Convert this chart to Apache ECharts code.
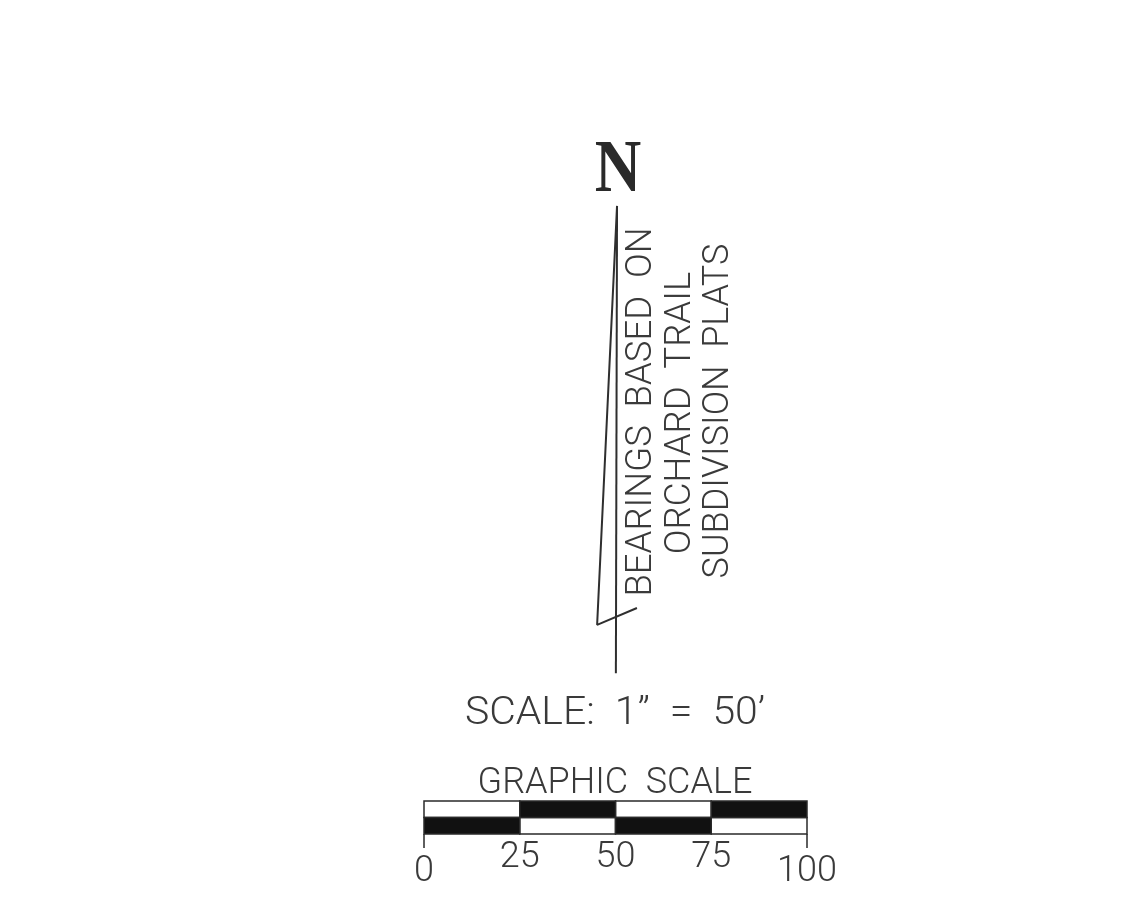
<!DOCTYPE html>
<html><head><meta charset="utf-8">
<style>html,body{margin:0;padding:0;background:#fff}#c{width:1142px;height:922px}</style>
<script src="https://cdn.jsdelivr.net/npm/echarts@6/dist/echarts.min.js"></script>
</head><body><div id="c"></div>
<script>
// graphic scale, feet
const scaleTicks = [0, 25, 50, 75, 100];
const lowLabels = [0, 100];
const topRowBlack = [[25, 50], [75, 100]];
const topRowWhite = [[0, 25], [50, 75]];
const bottomRowBlack = [[0, 25], [50, 75]];
const bottomRowWhite = [[25, 50], [75, 100]];
// north arrow outline, feet from the scale's zero
const arrowMeridian = [[50.4, 164], [50.1, 42]];
const arrowBarb = [[50.4, 164], [45.2, 54.6], [55.6, 59]];
// text
const northLetter = 'N';
const bearingNote = ['BEARINGS  BASED  ON', 'ORCHARD  TRAIL', 'SUBDIVISION  PLATS'];
const scaleNote = 'SCALE:  1”  =  50’';
const scaleTitle = 'GRAPHIC  SCALE';

const FONT = 'Roboto', INK = '#3a3a3a';
const chart = echarts.init(document.getElementById('c'), null, {renderer: 'canvas'});

function rows(list, row, color) {
  return {
    type: 'custom', xAxisIndex: 0, yAxisIndex: 0, silent: true,
    data: list.map(s => [s[0], s[1], row]),
    encode: {x: [0, 1], y: 2},
    renderItem(params, api) {
      const a = api.coord([api.value(0), api.value(2) + 1]);
      const b = api.coord([api.value(1), api.value(2)]);
      return {type: 'rect', shape: {x: a[0], y: a[1], width: b[0] - a[0], height: b[1] - a[1]},
        style: {fill: color, stroke: '#2a2a2a', lineWidth: 1.5}};
    }
  };
}
function line(points) {
  return {type: 'line', xAxisIndex: 1, yAxisIndex: 1, data: points, symbol: 'none', silent: true,
    lineStyle: {color: '#2f2f2f', width: 2}};
}
function txt(text, x, y, size, rot, sx) {
  return {type: 'text', x, y, rotation: rot ? Math.PI / 2 : 0, scaleX: sx || 1, silent: true,
    style: {text, fontFamily: FONT, fontWeight: 300, fontSize: size, fill: INK, align: 'center', verticalAlign: 'middle'}};
}

chart.setOption({
  animation: false,
  backgroundColor: '#fff',
  grid: [
    {left: 424, width: 383, top: 801, height: 33},
    {left: 0, right: 0, top: 0, bottom: 0}
  ],
  xAxis: [
    {type: 'value', gridIndex: 0, min: 0, max: 100, interval: 25, splitLine: {show: false},
     axisLine: {show: false},
     axisTick: {show: true, customValues: lowLabels, length: 14, lineStyle: {color: '#2a2a2a', width: 1.5}},
     axisLabel: {show: true, customValues: scaleTicks, margin: 6, showMinLabel: true, showMaxLabel: true,
       fontFamily: FONT, fontWeight: 300, fontSize: 36, color: INK, hideOverlap: false,
       formatter: v => lowLabels.includes(v) ? '{low|' + v + '}' : String(v),
       rich: {low: {fontFamily: FONT, fontWeight: 300, fontSize: 36, color: INK, padding: [14, 0, 0, 0]}}}},
    {type: 'value', gridIndex: 1, show: false, min: -424 / 3.83, max: (1142 - 424) / 3.83}
  ],
  yAxis: [
    {type: 'value', gridIndex: 0, show: false, min: 0, max: 2},
    {type: 'value', gridIndex: 1, show: false, min: (834 - 922) / 3.83, max: 834 / 3.83}
  ],
  series: [
    rows(topRowWhite, 1, '#fff'), rows(bottomRowWhite, 0, '#fff'),
    rows(topRowBlack, 1, '#111'), rows(bottomRowBlack, 0, '#111'),
    line(arrowMeridian), line(arrowBarb)
  ],
  graphic: [
    {type: 'text', x: 618, y: 172, scaleX: 0.87, silent: true,
     style: {text: northLetter, fontFamily: 'Liberation Serif', fontWeight: 'bold', fontSize: 74, fill: '#2a2a2a', align: 'center', verticalAlign: 'middle'}},
    txt(bearingNote[0], 642, 412, 36.5, true),
    txt(bearingNote[1], 681, 413, 36.5, true),
    txt(bearingNote[2], 719, 411, 36, true),
    txt(scaleNote, 615, 714, 39, false, 1.05),
    txt(scaleTitle, 615, 784, 36, false)
  ]
});
</script></body></html>
